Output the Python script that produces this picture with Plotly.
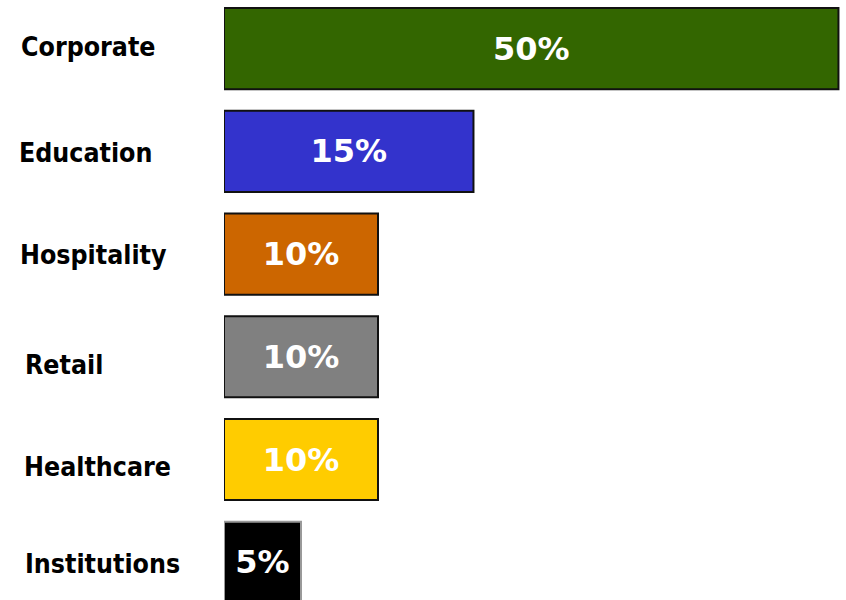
import plotly.graph_objects as go

categories = ["Corporate", "Education", "Hospitality", "Retail", "Healthcare", "Institutions"]
share_labels = ["50%", "15%", "10%", "10%", "10%", "5%"]
# drawn bar lengths (the graphic is not strictly proportional)
bar_lengths = [39.9, 16.2, 10.0, 10.0, 10.0, 5.0]
bar_colors = ["#336600", "#3333CC", "#CC6600", "#808080", "#FFCC00", "#000000"]
outline_colors = ["#111111", "#111111", "#111111", "#111111", "#111111", "#999999"]

# label placement tweaks (pixels)
label_left = [19, 17, 18, 23, 22, 23]
label_shift = [2, -1, 0, -8, -7, -1]

W, H = 846, 600
L = 224

fig = go.Figure()
fig.add_trace(go.Bar(
    y=categories, x=bar_lengths, orientation="h",
    marker=dict(color=bar_colors, line=dict(color=outline_colors, width=2)),
    width=0.79,
    text=share_labels, textposition="inside", insidetextanchor="middle",
    textfont=dict(family="DejaVu Sans", size=32, color="white", weight="bold"),
    constraintext="none",
    hoverinfo="skip",
))

for c, lx, dy in zip(categories, label_left, label_shift):
    fig.add_annotation(
        x=(lx - L) / (W - L), xref="paper", y=c, yref="y", yshift=dy,
        text="<b>%s</b>" % c, showarrow=False, xanchor="left", yanchor="middle",
        font=dict(family="DejaVu Sans Condensed, DejaVu Sans", size=26.5, color="black"),
    )

fig.update_layout(
    width=W, height=H,
    margin=dict(l=L, r=0, t=0, b=0),
    paper_bgcolor="white", plot_bgcolor="white",
    showlegend=False,
    xaxis=dict(range=[0, (W - L) / 15.4], visible=False, fixedrange=True),
    yaxis=dict(range=[5.368, -0.474], visible=False, fixedrange=True,
               categoryorder="array", categoryarray=categories),
)

fig.write_html("out.html")
